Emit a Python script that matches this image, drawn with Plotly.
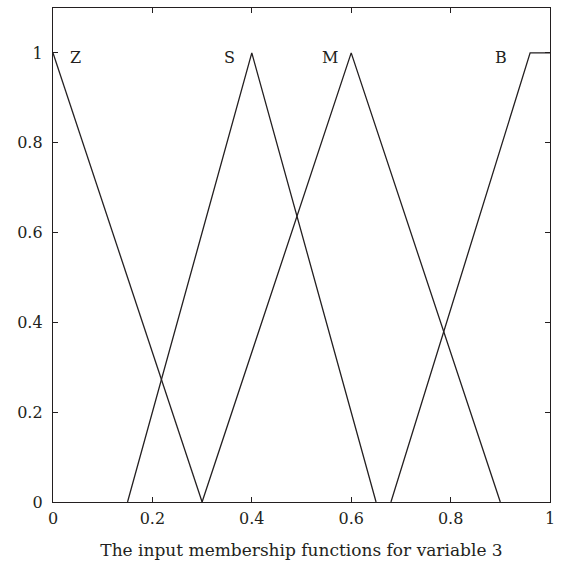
import plotly.graph_objects as go

# Membership function breakpoints for input variable 3
names = ["Z", "S", "M", "B"]
xs = [
    [0.0, 0.3],
    [0.15, 0.4, 0.65],
    [0.3, 0.6, 0.9],
    [0.68, 0.96, 1.0],
]
ys = [
    [1.0, 0.0],
    [0.0, 1.0, 0.0],
    [0.0, 1.0, 0.0],
    [0.0, 1.0, 1.0],
]
label_x = [0.045, 0.355, 0.557, 0.902]
label_y = [0.99, 0.99, 0.99, 0.99]

tick_vals = [0, 0.2, 0.4, 0.6, 0.8, 1]
tick_text = ["0", "0.2", "0.4", "0.6", "0.8", "1"]

font_family = "DejaVu Serif"
ink = "#231f20"

fig = go.Figure()
for n, x, y in zip(names, xs, ys):
    fig.add_trace(go.Scatter(x=x, y=y, mode="lines", name=n,
                             line=dict(color=ink, width=1.3)))

for n, lx, ly in zip(names, label_x, label_y):
    fig.add_annotation(x=lx, y=ly, text=n, showarrow=False,
                       font=dict(family=font_family, size=16, color=ink))

axis_common = dict(
    showline=True, linecolor=ink, linewidth=1.3, mirror="ticks",
    ticks="inside", ticklen=5, tickcolor=ink, tickwidth=1,
    showgrid=False, zeroline=False,
    tickfont=dict(family=font_family, size=16, color=ink),
    tickvals=tick_vals, ticktext=tick_text,
)

fig.update_layout(
    width=562, height=565,
    margin=dict(l=53, r=7, t=8, b=63),
    paper_bgcolor="white", plot_bgcolor="white",
    showlegend=False,
    xaxis=dict(range=[0, 1], **axis_common, ticklabelstandoff=2,
               title=dict(text="The input membership functions for variable 3",
                          font=dict(family=font_family, size=17, color=ink),
                          standoff=16)),
    yaxis=dict(range=[0, 1.1], **axis_common, ticklabelstandoff=6),
)

fig.write_html("out.html")
